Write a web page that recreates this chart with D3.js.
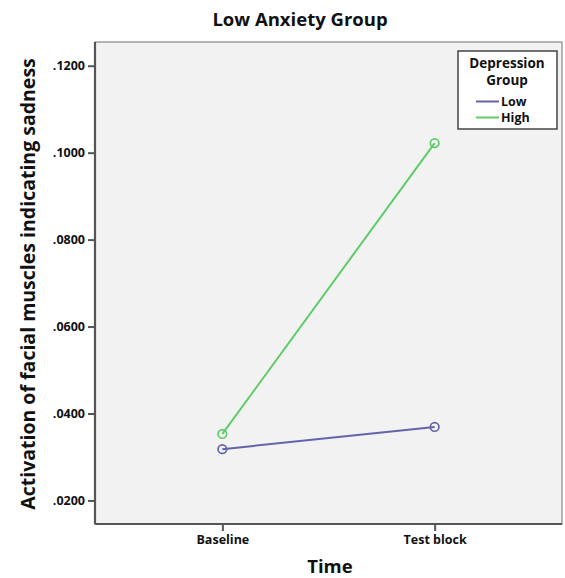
<!DOCTYPE html>
<html><head><meta charset="utf-8">
<script src="https://cdn.jsdelivr.net/npm/d3@7"></script>
<style>body{margin:0;background:#fff}svg{display:block}text{font-family:"Open Sans",sans-serif;font-weight:bold;fill:#111}</style>
</head><body><svg id="c" width="565" height="578"></svg>
<script>
const categories = ["Baseline", "Test block"];
const seriesNames = ["Low", "High"];
const lowValues = [0.0318, 0.0369];
const highValues = [0.0353, 0.1022];
const yTicks = [0.02, 0.04, 0.06, 0.08, 0.10, 0.12];
const yTickLabels = [".0200", ".0400", ".0600", ".0800", ".1000", ".1200"];
const colors = ["#6464aa", "#5fcb6b"];

const svg = d3.select("#c");
const L = 95, R = 562, T = 42, B = 524;
const x = d3.scalePoint().domain(categories).range([L, R]).padding(0.6);
const y = d3.scaleLinear().domain([0.01458, 0.12546]).range([B, T]);

svg.append("rect").attr("x", L).attr("y", T).attr("width", R - L).attr("height", B - T)
  .attr("fill", "#f2f2f2").attr("stroke", "#888").attr("stroke-width", 1.2);

const series = [lowValues, highValues];
const line = d3.line().x((d, i) => x(categories[i])).y(d => y(d));
series.forEach((vals, s) => {
  svg.append("path").datum(vals).attr("d", line).attr("fill", "none")
    .attr("stroke", colors[s]).attr("stroke-width", 2);
  svg.selectAll(null).data(vals).enter().append("circle")
    .attr("cx", (d, i) => x(categories[i])).attr("cy", d => y(d)).attr("r", 4.3)
    .attr("fill", "none").attr("stroke", colors[s]).attr("stroke-width", 1.7);
});

// axes
const yAxis = d3.axisLeft(y).tickValues(yTicks).tickFormat((d, i) => yTickLabels[i]).tickSize(7).tickPadding(3);
const gy = svg.append("g").attr("transform", `translate(${L},0)`).call(yAxis);
gy.select(".domain").attr("stroke", "#555").attr("stroke-width", 2.2).attr("d", `M0,${T}V${B}`);
gy.selectAll(".tick line").attr("stroke", "#555").attr("stroke-width", 2);
gy.selectAll(".tick text").style("font-size", "12.5px").style("font-family", '"Open Sans",sans-serif').style("font-weight", "bold").attr("fill", "#111");

const xAxis = d3.axisBottom(x).tickSize(7).tickPadding(4);
const gx = svg.append("g").attr("transform", `translate(0,${B})`).call(xAxis);
gx.select(".domain").attr("stroke", "#555").attr("stroke-width", 2.2).attr("d", `M${L},0H${R}`);
gx.selectAll(".tick line").attr("stroke", "#555").attr("stroke-width", 2);
gx.selectAll(".tick text").style("font-size", "12.5px").style("font-family", '"Open Sans",sans-serif').style("font-weight", "bold").attr("fill", "#111");

// titles
svg.append("text").attr("x", 300).attr("y", 26).attr("text-anchor", "middle").style("font-size", "18.5px").text("Low Anxiety Group");
svg.append("text").attr("x", 330).attr("y", 573).attr("text-anchor", "middle").style("font-size", "18.5px").text("Time");
svg.append("text").attr("transform", "translate(35,284) rotate(-90)").attr("text-anchor", "middle").style("font-size", "19.5px")
  .text("Activation of facial muscles indicating sadness");

// legend
const lg = svg.append("g");
lg.append("rect").attr("x", 458).attr("y", 51).attr("width", 99).attr("height", 78)
  .attr("fill", "#fff").attr("stroke", "#444").attr("stroke-width", 1.5);
lg.append("text").attr("x", 507).attr("y", 67.5).attr("text-anchor", "middle").style("font-size", "13.5px").text("Depression");
lg.append("text").attr("x", 507).attr("y", 85).attr("text-anchor", "middle").style("font-size", "13.5px").text("Group");
seriesNames.forEach((n, i) => {
  const yy = 101.5 + i * 16;
  lg.append("line").attr("x1", 476).attr("x2", 499).attr("y1", yy).attr("y2", yy).attr("stroke", colors[i]).attr("stroke-width", 2);
  lg.append("text").attr("x", 501).attr("y", yy + 4.3).style("font-size", "12.5px").text(n);
});
</script></body></html>
